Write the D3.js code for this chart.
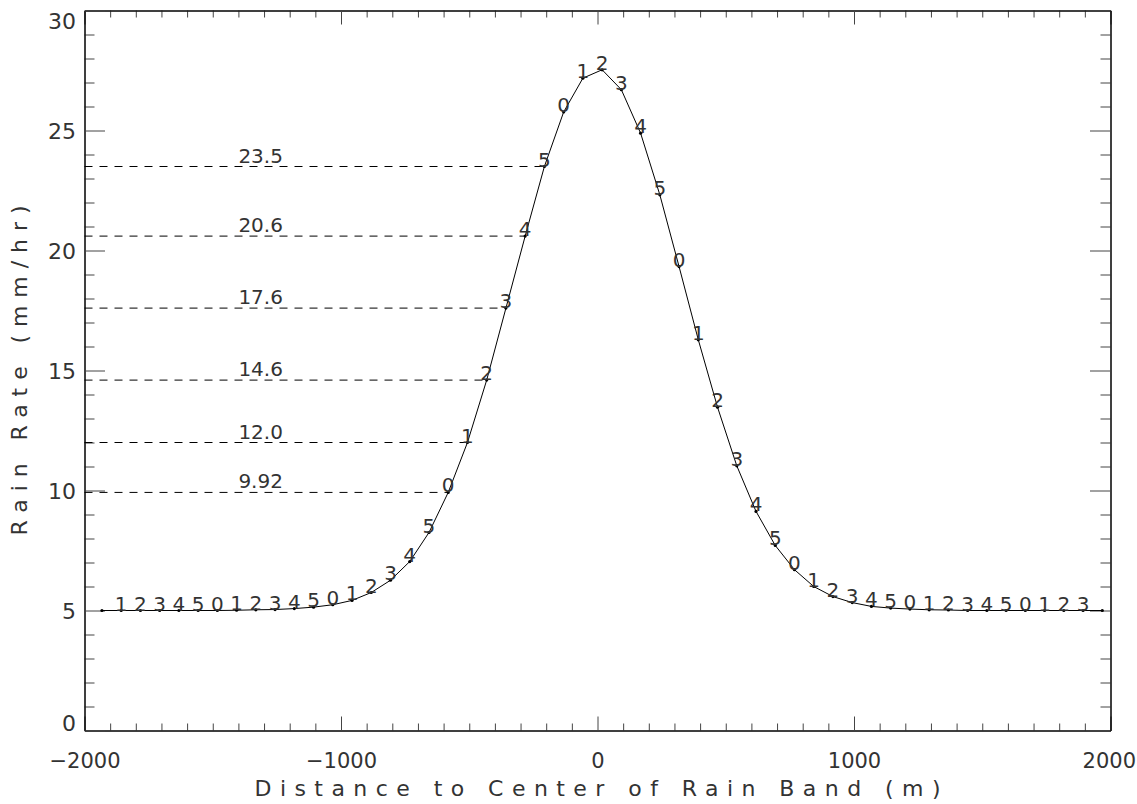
<!DOCTYPE html>
<html lang="en">
<head>
<meta charset="utf-8">
<title>Rain Rate</title>
<script src="https://cdnjs.cloudflare.com/ajax/libs/d3/7.8.5/d3.min.js"></script>
<style>
  body { margin: 0; background: #fff; }
  svg text { font-family: "DejaVu Sans", "Liberation Sans", sans-serif; fill: #333; }
</style>
</head>
<body>
<svg id="chart" width="1137" height="804"></svg>
<script>
// distance to center of the rain band (m), one point every 75 m
var distances = [-1932, -1857, -1782, -1707, -1632, -1557, -1482, -1407, -1332, -1257,
  -1182, -1107, -1032, -957, -882, -807, -732, -657, -582, -507, -432, -357, -282, -207,
  -132, -57, 18, 93, 168, 243, 318, 393, 468, 543, 618, 693, 768, 843, 918, 993, 1068,
  1143, 1218, 1293, 1368, 1443, 1518, 1593, 1668, 1743, 1818, 1893, 1968];

// rain rate (mm/hr)
var rates = [5.00, 5.00, 5.00, 5.00, 5.00, 5.00, 5.00, 5.01, 5.03, 5.04,
  5.08, 5.14, 5.24, 5.42, 5.75, 6.26, 7.04, 8.25, 9.92, 12.0, 14.6, 17.6, 20.6, 23.5,
  25.77, 27.18, 27.53, 26.70, 24.89, 22.32, 19.33, 16.28, 13.47, 11.03, 9.13, 7.71, 6.70,
  6.00, 5.58, 5.33, 5.17, 5.10, 5.06, 5.03, 5.02, 5.00, 5.00, 5.00, 5.00, 5.00, 5.00, 5.00, 5.00];

// digit drawn at each point
var pointLabels = ["", "1", "2", "3", "4", "5", "0", "1", "2", "3", "4", "5", "0", "1", "2",
  "3", "4", "5", "0", "1", "2", "3", "4", "5", "0", "1", "2", "3", "4", "5", "0", "1", "2",
  "3", "4", "5", "0", "1", "2", "3", "4", "5", "0", "1", "2", "3", "4", "5", "0", "1", "2", "3", ""];

// dashed reference levels and where they stop on the curve
var levels = [23.5, 20.6, 17.6, 14.6, 12.0, 9.92];
var levelLabels = ["23.5", "20.6", "17.6", "14.6", "12.0", "9.92"];
var levelEnds = [-207, -282, -357, -432, -507, -582];
var levelLabelX = -1400;

var xTicks = [-2000, -1000, 0, 1000, 2000];
var xTickLabels = ["\u22122000", "\u22121000", "0", "1000", "2000"];
var yTicks = [0, 5, 10, 15, 20, 25, 30];

var margin = {top: 10.5, left: 84.5},
    width = 1026, height = 720;

var svg = d3.select("#chart");
var g = svg.append("g").attr("transform", "translate(" + margin.left + "," + margin.top + ")");

var x = d3.scaleLinear().domain([-2000, 2000]).range([0, width]);
var y = d3.scaleLinear().domain([0, 30]).range([height, 0]);

var xMinor = d3.range(-2000, 2001, 100).filter(function(v) { return v % 1000 !== 0; });
var yMinor = d3.range(0, 31, 1).filter(function(v) { return v % 5 !== 0; });

function styleAxis(sel) {
  sel.select(".domain").attr("stroke", "#000");
  sel.selectAll(".tick line").attr("stroke", "#444");
  return sel;
}

// bottom axis
g.append("g").attr("transform", "translate(0," + height + ")")
  .call(d3.axisBottom(x).tickValues(xMinor).tickSize(-7).tickSizeOuter(0).tickFormat(""))
  .call(styleAxis);
var bx = g.append("g").attr("transform", "translate(0," + height + ")")
  .call(d3.axisBottom(x).tickValues(xTicks).tickSize(-14).tickSizeOuter(0)
    .tickFormat(function(d, i) { return xTickLabels[i]; }))
  .call(styleAxis);
bx.selectAll("text").attr("y", 37.5).attr("dy", null)
  .attr("font-size", 21).style("fill", "#333");
// keep the last label inside the page
bx.selectAll("text").filter(function(d) { return d === 2000; })
  .attr("text-anchor", "end").attr("x", 25);

// top axis
g.append("g")
  .call(d3.axisTop(x).tickValues(xMinor).tickSize(-7).tickSizeOuter(0).tickFormat(""))
  .call(styleAxis);
g.append("g")
  .call(d3.axisTop(x).tickValues(xTicks).tickSize(-14).tickSizeOuter(0).tickFormat(""))
  .call(styleAxis);

// left axis
g.append("g")
  .call(d3.axisLeft(y).tickValues(yMinor).tickSize(-10).tickSizeOuter(0).tickFormat(""))
  .call(styleAxis);
var ly = g.append("g")
  .call(d3.axisLeft(y).tickValues(yTicks).tickSize(-20.5).tickSizeOuter(0).tickPadding(8.5))
  .call(styleAxis);
ly.selectAll("text").attr("font-size", 22).attr("dy", function(d) {
  if (d === 30) return "0.8em";
  if (d === 0) return "0em";
  return "0.36em";
}).style("fill", "#333");

// right axis
g.append("g").attr("transform", "translate(" + width + ",0)")
  .call(d3.axisRight(y).tickValues(yMinor).tickSize(-10).tickSizeOuter(0).tickFormat(""))
  .call(styleAxis);
g.append("g").attr("transform", "translate(" + width + ",0)")
  .call(d3.axisRight(y).tickValues(yTicks).tickSize(-20.5).tickSizeOuter(0).tickFormat(""))
  .call(styleAxis);

// axis titles
svg.append("text")
  .attr("x", margin.left + width / 2).attr("y", 796)
  .attr("text-anchor", "middle").attr("font-size", 22)
  .attr("textLength", 686).attr("lengthAdjust", "spacing")
  .text("Distance to Center of Rain Band (m)");

svg.append("text")
  .attr("transform", "translate(27," + (margin.top + height / 2) + ") rotate(-90)")
  .attr("text-anchor", "middle").attr("font-size", 22)
  .attr("textLength", 330).attr("lengthAdjust", "spacing")
  .text("Rain Rate (mm/hr)");

// dashed reference levels
g.selectAll("line.level").data(levels).enter().append("line")
  .attr("class", "level")
  .attr("x1", 0).attr("x2", function(d, i) { return x(levelEnds[i]); })
  .attr("y1", function(d) { return y(d); }).attr("y2", function(d) { return y(d); })
  .attr("stroke", "#000").attr("stroke-width", 1).attr("stroke-dasharray", "8,7");

g.selectAll("text.levelLabel").data(levels).enter().append("text")
  .attr("class", "levelLabel")
  .attr("x", x(levelLabelX)).attr("y", function(d) { return y(d) - 4; })
  .attr("font-size", 20)
  .text(function(d, i) { return levelLabels[i]; });

// curve
var pts = distances.map(function(d, i) { return [d, rates[i]]; });
var line = d3.line().x(function(d) { return x(d[0]); }).y(function(d) { return y(d[1]); });

g.append("path").datum(pts)
  .attr("d", line).attr("fill", "none").attr("stroke", "#000").attr("stroke-width", 1);

g.selectAll("circle.pt").data(pts).enter().append("circle")
  .attr("class", "pt")
  .attr("cx", function(d) { return x(d[0]); })
  .attr("cy", function(d) { return y(d[1]); })
  .attr("r", 1.6).attr("fill", "#000");

g.selectAll("text.ptLabel").data(pts).enter().append("text")
  .attr("class", "ptLabel")
  .attr("x", function(d) { return x(d[0]); })
  .attr("y", function(d) { return y(d[1]); })
  .attr("text-anchor", "middle").attr("font-size", 20)
  .text(function(d, i) { return pointLabels[i]; });
</script>
</body>
</html>
